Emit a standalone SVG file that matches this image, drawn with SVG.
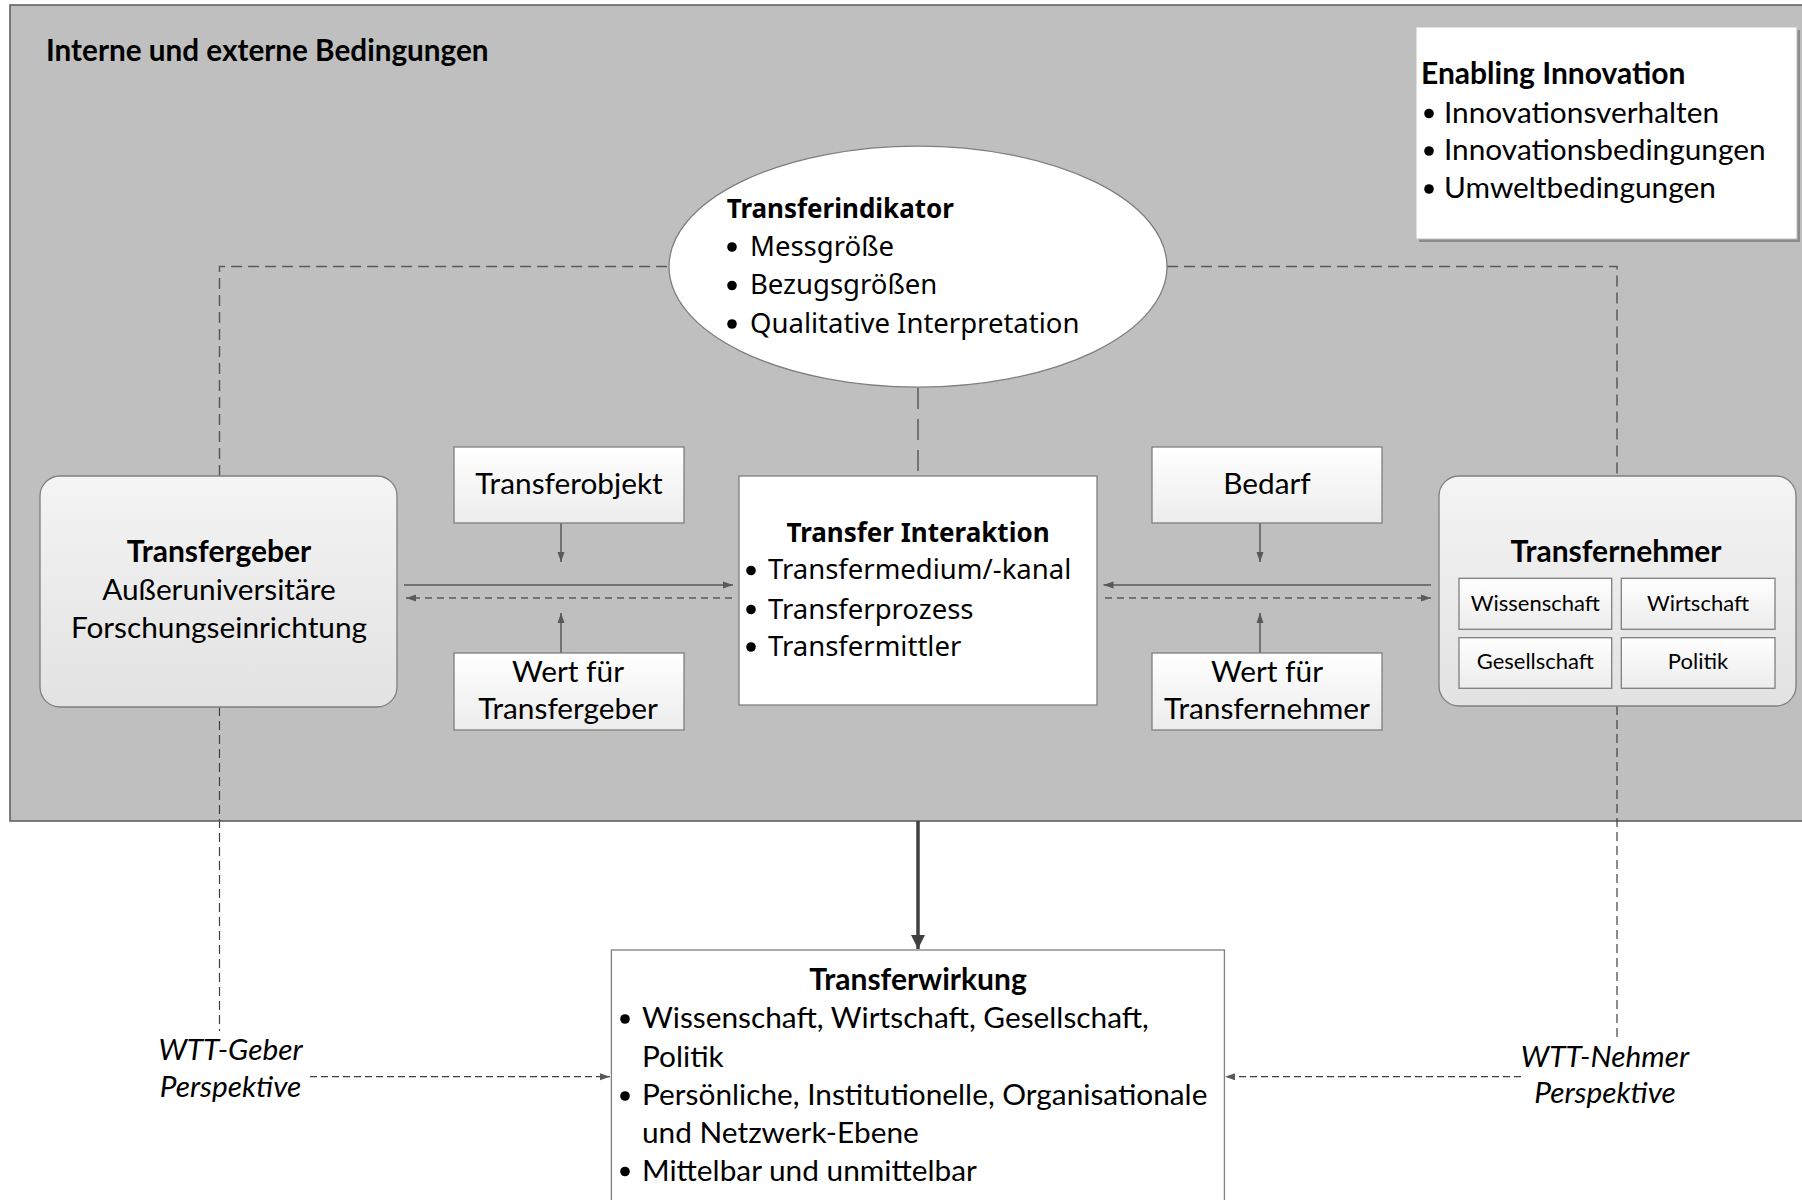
<svg xmlns="http://www.w3.org/2000/svg" width="1802" height="1200" viewBox="0 0 1802 1200">
<defs>
<style>
.c{font-family:Lato,"Liberation Sans",sans-serif;fill:#000;font-size:29.8px}
.s{font-family:"Noto Sans","Open Sans",sans-serif;fill:#000;font-size:27.5px}
.b{font-weight:bold}
.s.b{font-size:26px}
.c.b{font-size:30px}
.i{font-style:italic}
.m{text-anchor:middle}
.sm{font-size:22px}
.box{stroke:#7f7f7f;stroke-width:1.3}
.ln{fill:none;stroke:#595959;stroke-width:1.5}
.dl{fill:none;stroke:#595959;stroke-width:1.5;stroke-dasharray:11 6}
.dv{fill:none;stroke:#404040;stroke-width:1.2;stroke-dasharray:9 5}
.da{fill:none;stroke:#595959;stroke-width:1.5;stroke-dasharray:7 5}
.dp{fill:none;stroke:#404040;stroke-width:1.2;stroke-dasharray:7 4}
</style>
<linearGradient id="gw" x1="0" y1="0" x2="0" y2="1"><stop offset="0" stop-color="#ffffff"/><stop offset="1" stop-color="#ececec"/></linearGradient>
<linearGradient id="gr" x1="0" y1="0" x2="0" y2="1"><stop offset="0" stop-color="#f4f4f4"/><stop offset="1" stop-color="#e2e2e2"/></linearGradient>
<marker id="a" markerUnits="userSpaceOnUse" markerWidth="10" markerHeight="8" refX="10" refY="4" orient="auto"><path d="M0,0.5 L10,4 L0,7.5 z" fill="#595959"/></marker>
<marker id="at" markerUnits="userSpaceOnUse" markerWidth="14" markerHeight="14" refX="14" refY="7" orient="auto"><path d="M0,0 L14,7 L0,14 z" fill="#404040"/></marker>
</defs>
<rect x="0" y="0" width="1802" height="1200" fill="#ffffff"/>
<g id="bedingungen">
<rect x="10" y="5" width="1800" height="816" fill="#bfbfbf" stroke="#595959" stroke-width="1.5"/>
<text class="c b" x="46" y="61" style="font-size:29.7px">Interne und externe Bedingungen</text>
</g>
<g id="connectors">
<polyline class="dl" points="219.5,476 219.5,266.6 669,266.6"/>
<polyline class="dl" points="1167,266.6 1617,266.6 1617,476"/>
<line class="ln" x1="918" y1="388" x2="918" y2="476" stroke-dasharray="21 10"/>
<line class="dv" x1="219.5" y1="707" x2="219.5" y2="1031"/>
<line class="dv" x1="1617" y1="706" x2="1617" y2="1040"/>
<line class="dp" x1="310" y1="1076.7" x2="610" y2="1076.7" marker-end="url(#a)"/>
<line class="dp" x1="1521" y1="1076.7" x2="1225" y2="1076.7" marker-end="url(#a)"/>
<line class="ln" x1="561" y1="523" x2="561" y2="562" marker-end="url(#a)"/>
<line class="ln" x1="561" y1="653" x2="561" y2="613" marker-end="url(#a)"/>
<line class="ln" x1="1260" y1="523" x2="1260" y2="562" marker-end="url(#a)"/>
<line class="ln" x1="1260" y1="653" x2="1260" y2="613" marker-end="url(#a)"/>
<line class="ln" x1="404" y1="585" x2="733" y2="585" marker-end="url(#a)"/>
<line class="da" x1="732" y1="598" x2="406" y2="598" marker-end="url(#a)"/>
<line class="ln" x1="1431" y1="585" x2="1103.5" y2="585" marker-end="url(#a)"/>
<line class="da" x1="1105" y1="598" x2="1431" y2="598" marker-end="url(#a)"/>
<line x1="918" y1="821" x2="918" y2="949" stroke="#404040" stroke-width="3.5" marker-end="url(#at)"/>
</g>
<g id="enabling">
<rect x="1419" y="30" width="381" height="212" fill="#8c8c8c"/>
<rect x="1416" y="27" width="381" height="212" fill="#ffffff" stroke="#bfbfbf" stroke-width="1"/>
<text class="c b" x="1421" y="83.5">Enabling Innovation</text>
<circle cx="1429" cy="113.5" r="4.8"/><text class="c" x="1444" y="122.7">Innovationsverhalten</text>
<circle cx="1429" cy="151" r="4.8"/><text class="c" x="1444" y="160">Innovationsbedingungen</text>
<circle cx="1429" cy="189" r="4.8"/><text class="c" x="1444" y="198">Umweltbedingungen</text>
</g>
<g id="transferindikator">
<ellipse cx="918" cy="266.6" rx="249" ry="120.5" fill="#ffffff" stroke="#7f7f7f" stroke-width="1.3"/>
<text class="s b" x="726.7" y="218.3">Transferindikator</text>
<circle cx="732" cy="247" r="4.8"/><text class="s" x="750" y="256">Messgröße</text>
<circle cx="732" cy="285.5" r="4.8"/><text class="s" x="750" y="294.3">Bezugsgrößen</text>
<circle cx="732" cy="324" r="4.8"/><text class="s" x="750" y="333">Qualitative Interpretation</text>
</g>
<g id="transfer-interaktion">
<rect class="box" x="739" y="476" width="358" height="229" fill="#ffffff"/>
<text class="s b m" x="918" y="541.6">Transfer Interaktion</text>
<circle cx="751" cy="570.5" r="4.8"/><text class="s" x="768" y="579.3">Transfermedium/-kanal</text>
<circle cx="751" cy="609.5" r="4.8"/><text class="s" x="768" y="618.7">Transferprozess</text>
<circle cx="751" cy="647" r="4.8"/><text class="s" x="768" y="656">Transfermittler</text>
</g>
<g id="transfergeber">
<rect class="box" x="40" y="476" width="357" height="231" rx="20" fill="url(#gr)"/>
<text class="c b m" x="219" y="561.7">Transfergeber</text>
<text class="c m" x="219" y="600">Außeruniversitäre</text>
<text class="c m" x="219" y="638">Forschungseinrichtung</text>
</g>
<g id="transferobjekt">
<rect class="box" x="454" y="447" width="230" height="76" fill="url(#gw)"/>
<text class="c m" x="569" y="494">Transferobjekt</text>
</g>
<g id="wert-transfergeber">
<rect class="box" x="454" y="653" width="230" height="77" fill="url(#gw)"/>
<text class="c m" x="568" y="681.7">Wert für</text>
<text class="c m" x="568" y="719">Transfergeber</text>
</g>
<g id="bedarf">
<rect class="box" x="1152" y="447" width="230" height="76" fill="url(#gw)"/>
<text class="c m" x="1267" y="494">Bedarf</text>
</g>
<g id="wert-transfernehmer">
<rect class="box" x="1152" y="653" width="230" height="77" fill="url(#gw)"/>
<text class="c m" x="1267" y="681.7">Wert für</text>
<text class="c m" x="1267" y="719">Transfernehmer</text>
</g>
<g id="transfernehmer">
<rect class="box" x="1439" y="476" width="357" height="230" rx="20" fill="url(#gr)"/>
<text class="c b m" x="1616" y="561.7">Transfernehmer</text>
<g id="tn-wissenschaft"><rect class="box" x="1459" y="578.3" width="152.7" height="51" fill="url(#gw)"/><text class="c m sm" x="1535.3" y="611">Wissenschaft</text></g>
<g id="tn-wirtschaft"><rect class="box" x="1621.3" y="578.3" width="153.7" height="51" fill="url(#gw)"/><text class="c m sm" x="1698" y="611">Wirtschaft</text></g>
<g id="tn-gesellschaft"><rect class="box" x="1459" y="637.7" width="152.7" height="50.6" fill="url(#gw)"/><text class="c m sm" x="1535.3" y="669.3">Gesellschaft</text></g>
<g id="tn-politik"><rect class="box" x="1621.3" y="637.7" width="153.7" height="50.6" fill="url(#gw)"/><text class="c m sm" x="1698" y="669.3">Politik</text></g>
</g>
<g id="wtt-geber">
<text class="c i m" x="230.5" y="1060">WTT-Geber</text>
<text class="c i m" x="230.5" y="1096.7">Perspektive</text>
</g>
<g id="wtt-nehmer">
<text class="c i m" x="1605" y="1066.7">WTT-Nehmer</text>
<text class="c i m" x="1605" y="1103">Perspektive</text>
</g>
<g id="transferwirkung">
<rect class="box" x="611.4" y="950" width="613" height="270" fill="#ffffff"/>
<text class="c b m" x="918" y="990">Transferwirkung</text>
<circle cx="625" cy="1019" r="4.8"/><text class="c" x="642" y="1028.3">Wissenschaft, Wirtschaft, Gesellschaft,</text>
<text class="c" x="642" y="1066.7">Politik</text>
<circle cx="625" cy="1096" r="4.8"/><text class="c" x="642" y="1105">Persönliche, Institutionelle, Organisationale</text>
<text class="c" x="642" y="1143">und Netzwerk-Ebene</text>
<circle cx="625" cy="1171.5" r="4.8"/><text class="c" x="642" y="1180.7">Mittelbar und unmittelbar</text>
</g>
</svg>
